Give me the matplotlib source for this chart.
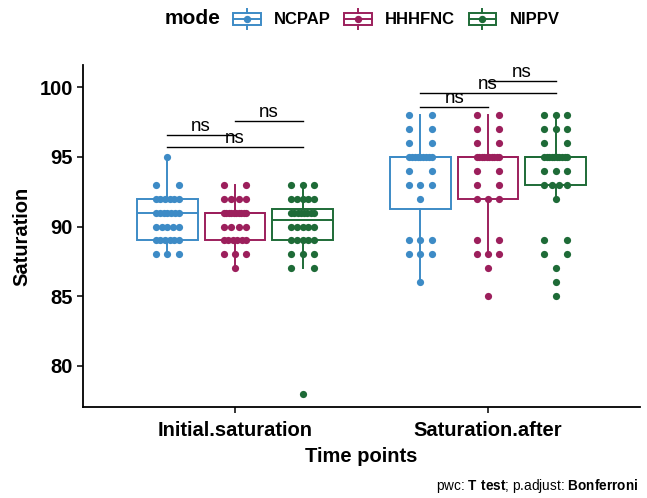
import matplotlib
matplotlib.use('Agg')
import matplotlib.pyplot as plt
import numpy as np
from matplotlib.patches import Rectangle
from matplotlib.lines import Line2D
from matplotlib.legend_handler import HandlerBase

plt.rcParams['font.family'] = ['Liberation Sans', 'DejaVu Sans']
plt.rcParams['mathtext.fontset'] = 'custom'
plt.rcParams['mathtext.rm'] = 'Liberation Sans'
plt.rcParams['mathtext.bf'] = 'Liberation Sans:bold'

# ---------------- data ----------------
time_points = ['Initial.saturation', 'Saturation.after']
modes = ['NCPAP', 'HHHFNC', 'NIPPV']
mode_colors = ['#3D8BC6', '#9C1F5C', '#1E6B37']

ncpap_initial = [88, 88, 88, 89, 89, 89, 89, 89, 89, 90, 90, 90, 90, 90,
                 91, 91, 91, 91, 91, 91, 91, 92, 92, 92, 92, 92, 92, 93, 93, 95]
hhhfnc_initial = [87, 88, 88, 88, 89, 89, 89, 89, 89, 89, 90, 90, 90, 90,
                  91, 91, 91, 91, 91, 91, 91, 91, 91, 91, 92, 92, 92, 92, 93, 93]
nippv_initial = [78, 87, 87, 88, 88, 88, 89, 89, 89, 89, 89, 90, 90, 90, 90, 90,
                 91, 91, 91, 91, 91, 91, 91, 91, 92, 92, 92, 92, 92, 93, 93, 93]
ncpap_after = [86, 88, 88, 88, 89, 89, 89, 92, 93, 93, 93, 94, 94,
               95, 95, 95, 95, 95, 95, 95, 95, 95, 96, 96, 97, 97, 98, 98]
hhhfnc_after = [85, 87, 88, 88, 88, 89, 89, 92, 92, 92, 93, 93, 94, 94,
                95, 95, 95, 95, 95, 95, 95, 95, 95, 95, 96, 96, 97, 97, 98, 98]
nippv_after = [85, 86, 87, 88, 88, 89, 89, 92, 93, 93, 93, 93, 94, 94, 94,
               95, 95, 95, 95, 95, 95, 95, 95, 95, 95, 96, 96, 97, 97, 97, 98, 98, 98]

values = {
    ('Initial.saturation', 'NCPAP'): ncpap_initial,
    ('Initial.saturation', 'HHHFNC'): hhhfnc_initial,
    ('Initial.saturation', 'NIPPV'): nippv_initial,
    ('Saturation.after', 'NCPAP'): ncpap_after,
    ('Saturation.after', 'HHHFNC'): hhhfnc_after,
    ('Saturation.after', 'NIPPV'): nippv_after,
}

# pairwise comparison brackets
bracket_time = ['Initial.saturation', 'Initial.saturation', 'Initial.saturation',
                'Saturation.after', 'Saturation.after', 'Saturation.after']
bracket_g1 = ['NCPAP', 'NCPAP', 'HHHFNC', 'NCPAP', 'NCPAP', 'HHHFNC']
bracket_g2 = ['HHHFNC', 'NIPPV', 'NIPPV', 'HHHFNC', 'NIPPV', 'NIPPV']
bracket_y = [96.56, 95.70, 97.56, 98.57, 99.57, 100.43]
bracket_label = ['ns', 'ns', 'ns', 'ns', 'ns', 'ns']

y_ticks = [80, 85, 90, 95, 100]

# ---------------- figure ----------------
W, H = 647, 498
fig = plt.figure(figsize=(W / 100, H / 100), dpi=100)
ax = fig.add_axes([83 / W, 1 - 407 / H, (640 - 83) / W, (407 - 65) / H])

dodge = 0.267
box_w = 0.24
jit = 0.045
lw = 1.4


def xpos(tp, m):
    return time_points.index(tp) + 1 + (modes.index(m) - 1) * dodge


for tp in time_points:
    for m, c in zip(modes, mode_colors):
        v = np.array(values[(tp, m)], dtype=float)
        p = xpos(tp, m)
        ax.boxplot(v, positions=[p], widths=box_w, whis=1.5, showfliers=False,
                   showcaps=False, patch_artist=True, manage_ticks=False,
                   boxprops=dict(facecolor='white', edgecolor=c, linewidth=lw),
                   medianprops=dict(color=c, linewidth=lw),
                   whiskerprops=dict(color=c, linewidth=lw), zorder=2)
        uniq, counts = np.unique(v, return_counts=True)
        xs, ys = [], []
        for u, k in zip(uniq, counts):
            offs = np.linspace(-jit, jit, k) if k > 1 else np.array([0.0])
            xs.extend(p + offs)
            ys.extend([u] * k)
        ax.scatter(xs, ys, s=27, color=c, linewidths=0, zorder=3)

for tp, g1, g2, yv, lab in zip(bracket_time, bracket_g1, bracket_g2, bracket_y, bracket_label):
    x1, x2 = xpos(tp, g1), xpos(tp, g2)
    ax.plot([x1, x2], [yv, yv], color='black', lw=1.0, zorder=4)
    ax.text((x1 + x2) / 2, yv, lab, ha='center', va='bottom', fontsize=13.5,
            color='black', zorder=5)

ax.set_xlim(0.4, 2.6)
ax.set_ylim(77.06, 101.58)
ax.set_xticks([1, 2])
ax.set_xticklabels(time_points)
ax.set_yticks(y_ticks)
ax.set_yticklabels([str(t) for t in y_ticks])
for s in ['top', 'right']:
    ax.spines[s].set_visible(False)
for s in ['left', 'bottom']:
    ax.spines[s].set_linewidth(1.3)
ax.tick_params(axis='both', length=4.3, width=1.1, color='black',
               labelsize=14.5, labelcolor='black')
ax.tick_params(axis='y', pad=3)
ax.tick_params(axis='x', pad=6)
for lbl in ax.get_xticklabels() + ax.get_yticklabels():
    lbl.set_fontweight('bold')
ax.set_xlabel('Time points', fontsize=14.5, fontweight='bold', labelpad=5)
ax.set_ylabel('Saturation', fontsize=14.5, fontweight='bold', labelpad=6)


class BoxHandler(HandlerBase):
    def create_artists(self, legend, orig_handle, xdescent, ydescent, width,
                       height, fontsize, trans):
        c = orig_handle.get_color()
        x0, y0 = -xdescent, -ydescent
        bh = height * 0.6
        by = y0 + (height - bh) / 2
        xm = x0 + width / 2
        rect = Rectangle((x0, by), width, bh, facecolor='white', edgecolor=c,
                         lw=lw, transform=trans)
        med = Line2D([x0, x0 + width], [y0 + height / 2] * 2, color=c, lw=lw,
                     transform=trans)
        wt = Line2D([xm, xm], [by + bh, y0 + height], color=c, lw=lw, transform=trans)
        wb = Line2D([xm, xm], [y0, by], color=c, lw=lw, transform=trans)
        dot = Line2D([xm], [y0 + height / 2], marker='o', ms=4.3, color=c,
                     linestyle='none', transform=trans)
        return [rect, med, wt, wb, dot]


handles = [Line2D([], [], color=c) for c in mode_colors]
fig.legend(handles, modes, handler_map={Line2D: BoxHandler()},
           loc='center left', bbox_to_anchor=(233 / W, 1 - 19 / H), ncol=3,
           frameon=False, borderpad=0, borderaxespad=0, handlelength=1.66,
           handleheight=1.54, handletextpad=0.8, columnspacing=0.8,
           prop={'weight': 'bold', 'size': 12})
fig.text(165 / W, 1 - 19 / H, 'mode', fontsize=15, fontweight='bold',
         ha='left', va='center')

fig.text(638 / W, 1 - 486 / H,
         r'pwc: $\mathbf{T\ test}$; p.adjust: $\mathbf{Bonferroni}$',
         ha='right', va='center', fontsize=9.8)

fig.savefig('out.png', dpi=100)
